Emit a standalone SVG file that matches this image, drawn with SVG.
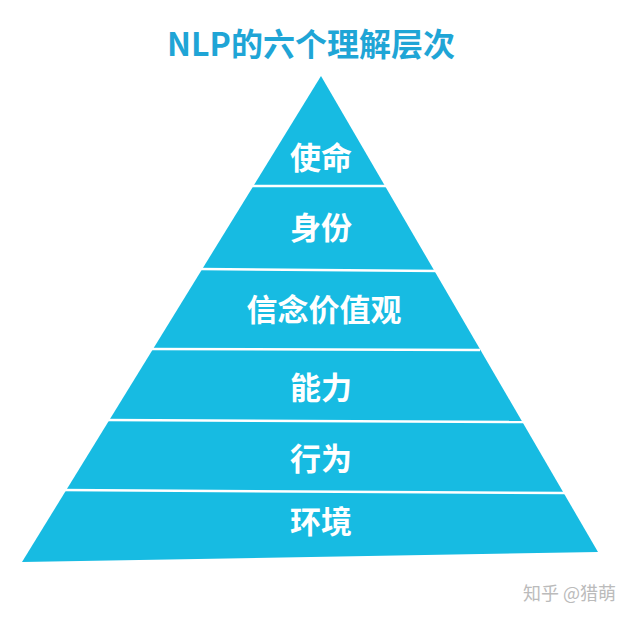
<svg xmlns="http://www.w3.org/2000/svg" width="640" height="621" viewBox="0 0 640 621">
<style>
.l{font-family:"Noto Sans CJK SC","Noto Sans",sans-serif;font-weight:bold;font-size:31px;fill:#fff;text-anchor:middle}
.s{stroke:#fff;stroke-width:2.5}
</style>
<rect width="640" height="621" fill="#fff"/>
<text x="311" y="56" text-anchor="middle" font-family="Noto Sans CJK SC,Noto Sans,sans-serif" font-weight="bold" font-size="32" fill="#1fa5d6">NLP的六个理解层次</text>
<g id="pyramid">
<polygon points="321,76 598,552 22,562" fill="#17bbe2"/>
</g>
<g id="connectors">
<line class="s" x1="250" y1="186" x2="390" y2="186"/>
<line class="s" x1="200" y1="269" x2="440" y2="271"/>
<line class="s" x1="150" y1="349" x2="480" y2="350"/>
<line class="s" x1="105" y1="420" x2="525" y2="422"/>
<line class="s" x1="60" y1="490" x2="565" y2="493"/>
</g>
<g id="n1"><text class="l" x="321" y="169">使命</text></g>
<g id="n2"><text class="l" x="321" y="239">身份</text></g>
<g id="n3"><text class="l" x="324" y="321">信念价值观</text></g>
<g id="n4"><text class="l" x="321" y="399">能力</text></g>
<g id="n5"><text class="l" x="321" y="470">行为</text></g>
<g id="n6"><text class="l" x="321" y="533">环境</text></g>
<text x="523" y="600" font-family="Noto Sans CJK SC,sans-serif" font-size="18" fill="#bbb">知乎 @猎萌</text>
</svg>
